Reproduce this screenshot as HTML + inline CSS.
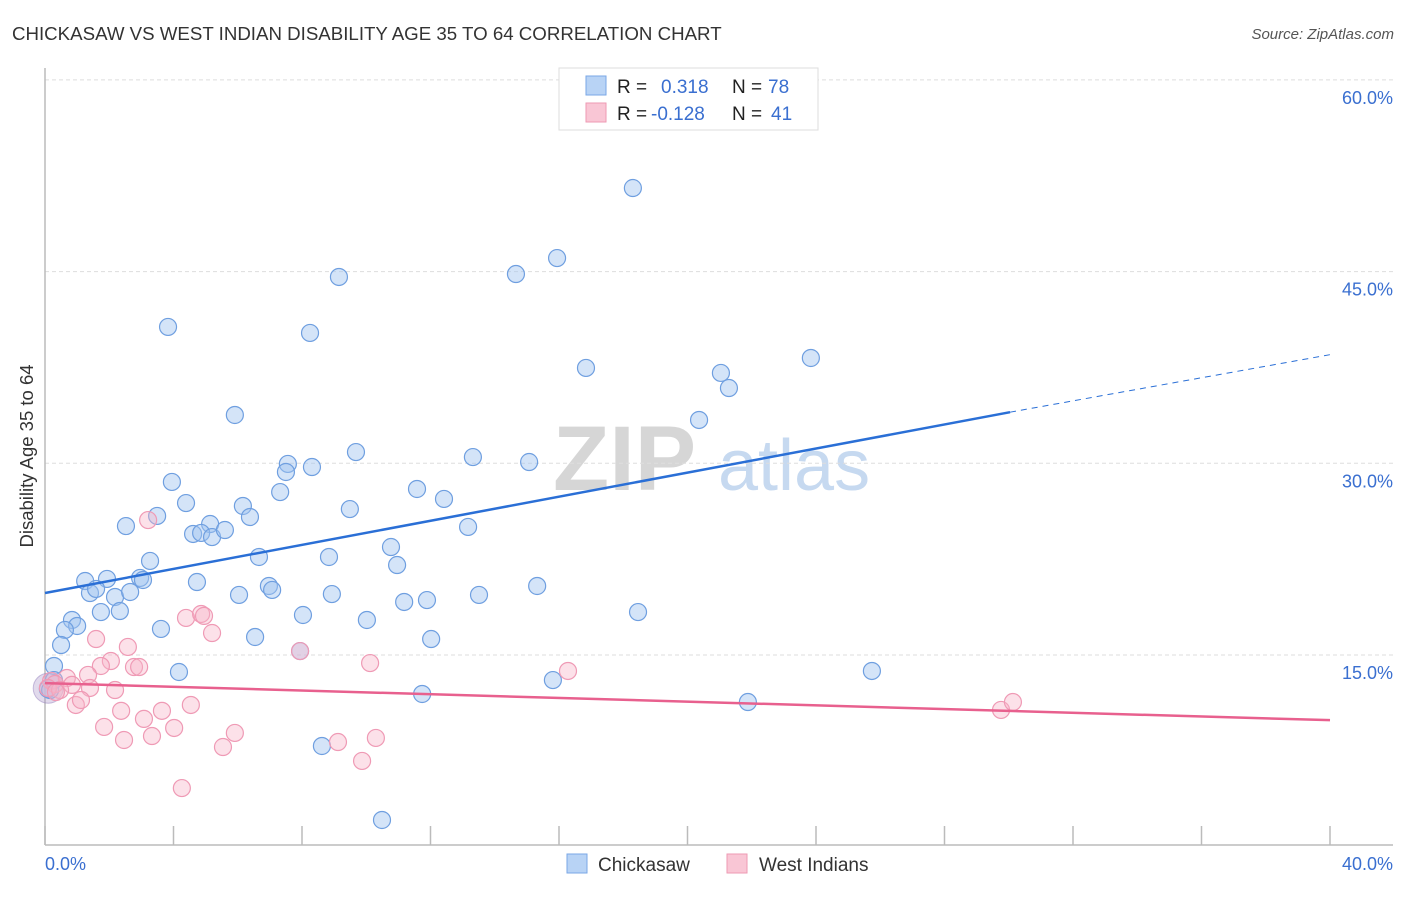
<!DOCTYPE html>
<html><head><meta charset="utf-8"><style>
body{margin:0;background:#fff;font-family:"Liberation Sans",sans-serif;}
svg text{font-family:"Liberation Sans",sans-serif;}
</style></head><body>
<svg id="chart" width="1406" height="892" xmlns="http://www.w3.org/2000/svg">
<text x="12" y="40" font-size="18.7" fill="#333">CHICKASAW VS WEST INDIAN DISABILITY AGE 35 TO 64 CORRELATION CHART</text>
<text x="1394" y="39" font-size="15" fill="#555" font-style="italic" text-anchor="end">Source: ZipAtlas.com</text>
<g>
<text x="553" y="490" font-size="92" fill="#d6d6d6" font-family="Liberation Serif,serif" font-weight="bold">ZIP</text>
<text x="718" y="490" font-size="72" fill="#c6d9f0">atlas</text>
</g>
<g id="grid"></g><g id="axes"></g><g id="pts"></g><g id="trend"></g>
<text transform="translate(33,456) rotate(-90)" font-size="18.5" fill="#333" text-anchor="middle">Disability Age 35 to 64</text>
<g>
<rect x="559" y="68" width="259" height="62" fill="#fff" stroke="#ddd"/>
<rect x="586" y="76" width="20" height="19" fill="#b8d3f5" stroke="#7aa7e6"/>
<rect x="586" y="103" width="20" height="19" fill="#f9c6d5" stroke="#ee9ab3"/>
<text x="617" y="93" font-size="19" fill="#222">R = </text><text x="661" y="93" font-size="19" fill="#3a6fd0">0.318</text>
<text x="732" y="93" font-size="19" fill="#222">N = </text><text x="768" y="93" font-size="19" fill="#3a6fd0">78</text>
<text x="617" y="120" font-size="19" fill="#222">R = </text><text x="651" y="120" font-size="19" fill="#3a6fd0">-0.128</text>
<text x="732" y="120" font-size="19" fill="#222">N = </text><text x="771" y="120" font-size="19" fill="#3a6fd0">41</text>
</g>
<g>
<rect x="567" y="854" width="20" height="19" fill="#b8d3f5" stroke="#7aa7e6"/>
<text x="598" y="871" font-size="19" fill="#333">Chickasaw</text>
<rect x="727" y="854" width="20" height="19" fill="#f9c6d5" stroke="#ee9ab3"/>
<text x="759" y="871" font-size="19" fill="#333">West Indians</text>
</g>
</svg>
<script>
const yTicks=[15,30,45,60];
const yTickLabels=["15.0%","30.0%","45.0%","60.0%"];
const xTicks=[0,4,8,12,16,20,24,28,32,36,40];
const blueX=[18.30,15.94,14.66,9.15,3.83,8.25,23.84,16.84,21.04,21.29,20.36,5.91,9.68,13.32,15.07,7.56,7.50,8.31,3.95,7.32,11.58,12.42,4.39,6.16,9.49,3.49,2.52,6.38,5.14,13.17,4.61,4.86,5.20,5.60,10.77,6.66,8.84,3.27,10.96,1.93,1.25,2.96,3.05,4.73,6.97,7.07,15.32,1.40,1.59,2.18,2.65,6.04,8.93,13.51,11.18,11.89,1.74,2.33,8.03,18.46,10.02,0.84,1.00,0.62,3.61,0.50,12.02,6.54,7.94,0.28,4.17,25.74,15.81,11.74,0.09,21.88,8.62,10.49,0.16,0.28];
const blueY=[51.54,46.06,44.81,44.58,40.67,40.20,38.24,37.46,37.07,35.89,33.39,33.78,30.88,30.49,30.10,29.95,29.32,29.71,28.54,27.75,27.99,27.21,26.89,26.66,26.42,25.88,25.09,25.80,25.25,25.02,24.47,24.55,24.23,24.78,23.45,22.67,22.67,22.36,22.04,20.95,20.79,21.03,20.87,20.71,20.40,20.09,20.40,19.85,20.17,19.54,19.93,19.70,19.77,19.70,19.15,19.30,18.36,18.44,18.13,18.36,17.74,17.74,17.27,16.96,17.04,15.78,16.25,16.41,15.31,14.14,13.67,13.75,13.04,11.95,12.34,11.32,7.88,2.09,12.26,13.04];
const pinkX=[3.21,4.39,4.86,4.95,5.20,1.59,2.58,7.94,2.05,1.74,2.77,2.93,10.12,16.28,0.19,0.68,0.31,1.34,0.84,1.40,2.18,0.09,0.47,0.34,0.96,1.12,3.64,4.54,2.37,29.76,30.13,1.84,3.08,4.02,5.91,3.33,2.46,5.54,9.12,10.30,9.87,4.26];
const pinkY=[25.56,17.90,18.21,18.06,16.72,16.25,15.63,15.31,14.53,14.14,14.06,14.06,14.37,13.75,12.97,13.2,12.73,13.44,12.66,12.42,12.26,12.42,12.26,12.10,11.09,11.48,10.63,11.09,10.63,10.70,11.32,9.37,10.0,9.29,8.90,8.66,8.35,7.80,8.19,8.51,6.71,4.59];
const blueTrend=[19.85,34.0,38.5];
const blueTrendX=[0,30.04,40];
const pinkTrend=[12.8,9.9];
const pinkTrendX=[0,40];

const NS="http://www.w3.org/2000/svg";
const sx=v=>45+v*32.125, sy=v=>846.7-v*12.78;
function mk(parent,tag,attrs){const e=document.createElementNS(NS,tag);for(const k in attrs)e.setAttribute(k,attrs[k]);document.getElementById(parent).appendChild(e);return e;}
yTicks.forEach((t,i)=>{
 const l=mk('grid','line',{x1:45,x2:1393,y1:sy(t),y2:sy(t),stroke:'#ddd','stroke-dasharray':'4,3'});
 
 
 const tx=mk('grid','text',{x:1393,y:sy(t)+24,'font-size':18,fill:'#3a6fd0','text-anchor':'end'});
 tx.textContent=yTickLabels[i];
 
 
});
const xa=mk('axes','line',{x1:45,x2:1393,y1:845,y2:845,stroke:'#bbb','stroke-width':1.5});


const ya=mk('axes','line',{x1:45,x2:45,y1:68,y2:845,stroke:'#bbb','stroke-width':1.5});


xTicks.forEach(t=>{
 const k=mk('axes','line',{x1:sx(t),x2:sx(t),y1:826,y2:845,stroke:'#bbb','stroke-width':1.5});
 
 
});
const x0=mk('axes','text',{x:45,y:870,'font-size':18,fill:'#3a6fd0'});x0.textContent='0.0%';


const x1=mk('axes','text',{x:1393,y:870,'font-size':18,fill:'#3a6fd0','text-anchor':'end'});x1.textContent='40.0%';


const big=mk('pts','circle',{cx:sx(0.1),cy:sy(12.4),r:15,fill:'rgba(170,150,200,0.35)',stroke:'rgba(150,130,190,0.5)'});


blueX.forEach((x,i)=>{
 const c=mk('pts','circle',{cx:sx(x),cy:sy(blueY[i]),r:8.5,fill:'rgba(160,196,240,0.45)',stroke:'#6f9fe0','stroke-width':1.2});
 
 
});
pinkX.forEach((x,i)=>{
 const c=mk('pts','circle',{cx:sx(x),cy:sy(pinkY[i]),r:8.5,fill:'rgba(248,180,200,0.4)',stroke:'#ef9ab5','stroke-width':1.2});
 
 
});
const bt=mk('trend','line',{x1:sx(blueTrendX[0]),y1:sy(blueTrend[0]),x2:sx(blueTrendX[1]),y2:sy(blueTrend[1]),stroke:'#2a6fd6','stroke-width':2.5});


const bd=mk('trend','line',{x1:sx(blueTrendX[1]),y1:sy(blueTrend[1]),x2:sx(blueTrendX[2]),y2:sy(blueTrend[2]),stroke:'#2a6fd6','stroke-width':1,'stroke-dasharray':'6,5'});


const pt=mk('trend','line',{x1:sx(pinkTrendX[0]),y1:sy(pinkTrend[0]),x2:sx(pinkTrendX[1]),y2:sy(pinkTrend[1]),stroke:'#e8608e','stroke-width':2.5});


</script>
</body></html>
